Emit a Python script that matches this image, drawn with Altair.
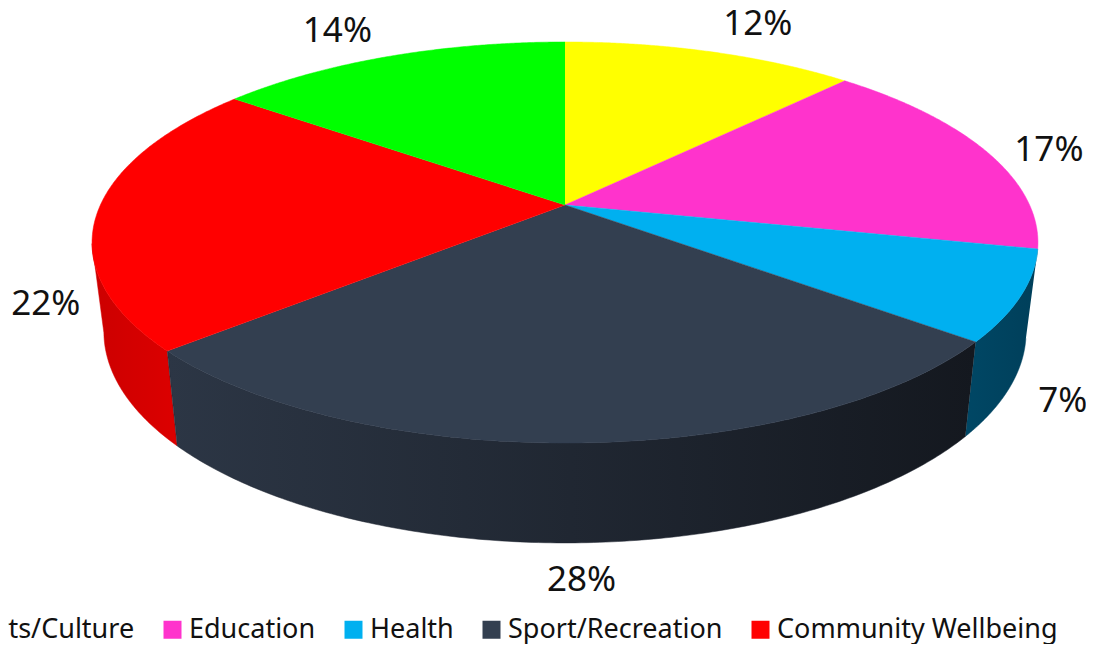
import numpy as np
import pandas as pd
import altair as alt

categories = ["Arts/Culture", "Education", "Health", "Sport/Recreation", "Community Wellbeing", "Other"]
shares = [12.0, 16.5, 7.25, 27.75, 21.95, 14.55]
labels = ["12%", "17%", "7%", "28%", "22%", "14%"]
colors = ["#FFFF00", "#FF33CC", "#00B0F0", "#333F50", "#FF0000", "#00FF00"]

# Projection of the pie disc (perspective view)
CX, CY, A, B, K = 565.0, 205.0, 464.6, 193.5, 0.187
label_offsets = [(47, -28), (63, -1), (42, 105), (3, 137), (-52, 93), (-52, -25)]


def disc(theta):
    u, v = np.sin(theta), np.cos(theta)
    d = 1 + K * v
    return CX + A * u / d, CY - B * v / d


def lower(x, y):
    return CX + 0.975 * (x - CX), 1.054 * y + 76


edges = np.cumsum([0] + shares) / 100 * 2 * np.pi
face_rows, wall_rows, label_rows = [], {}, []
for i, cat in enumerate(categories):
    t0, t1 = edges[i], edges[i + 1]
    ts = np.linspace(t0, t1, 160)
    xs, ys = disc(ts)
    face_rows.append({"cat": cat, "x": CX, "y": CY, "o": 0})
    for j, (x, y) in enumerate(zip(xs, ys)):
        face_rows.append({"cat": cat, "x": float(x), "y": float(y), "o": j + 1})
    keep = ys >= 242
    if keep.any():
        tx, ty = xs[keep], ys[keep]
        bx, by = lower(tx, ty)
        px = np.concatenate([tx, bx[::-1]])
        py = np.concatenate([ty, by[::-1]])
        wall_rows[cat] = pd.DataFrame({"x": px, "y": py, "o": np.arange(len(px))})
    mx, my = disc((t0 + t1) / 2)
    dx, dy = label_offsets[i]
    label_rows.append({"t": labels[i], "x": float(mx + dx), "y": float(my + dy)})

faces = pd.DataFrame(face_rows)
lab = pd.DataFrame(label_rows)

xs_ = alt.Scale(domain=[8, 1086], range=[0, 1078], nice=False, zero=False)
ys_ = alt.Scale(domain=[8, 644], range=[0, 636], nice=False, zero=False)
X = alt.X("x:Q", scale=xs_, axis=None)
Y = alt.Y("y:Q", scale=ys_, axis=None)
O = alt.Order("o:Q")


def grad(c0, c1):
    return alt.LinearGradient(gradient="linear", x1=0, y1=0, x2=1, y2=0,
                              stops=[alt.GradientStop(offset=0, color=c0),
                                     alt.GradientStop(offset=1, color=c1)])


wall_style = {
    "Health": (grad("#004765", "#003F5A"), "#004360"),
    "Sport/Recreation": (grad("#2C3645", "#14181F"), "#1F2530"),
    "Community Wellbeing": (grad("#CC0000", "#DC0000"), "#D60000"),
}
walls = [
    alt.Chart(wall_rows[c]).mark_line(fill=wall_style[c][0], stroke=wall_style[c][1], strokeWidth=0.5)
    .encode(x=X, y=Y, order=O)
    for c in ["Health", "Community Wellbeing", "Sport/Recreation"]
]

color_scale = alt.Scale(domain=categories, range=colors)
legend = alt.Legend(
    title=None, orient="none", legendX=-58, legendY=608, direction="horizontal", columns=6,
    symbolType="square", symbolSize=324, symbolStrokeWidth=0, labelFont="Noto Sans", labelFontSize=27,
    labelColor="#111111", labelOffset=3, columnPadding=24, padding=0, labelLimit=400, symbolOpacity=1,
)
face_chart = alt.Chart(faces).mark_line(strokeWidth=0.5).encode(
    x=X, y=Y, order=O,
    fill=alt.Fill("cat:N", scale=color_scale, sort=categories, legend=legend),
    stroke=alt.Stroke("cat:N", scale=color_scale, sort=categories, legend=None),
    detail="cat:N",
)
text_chart = alt.Chart(lab).mark_text(font="Noto Sans", fontSize=35, color="#111111").encode(
    x=X, y=Y, text="t:N"
)

chart = alt.layer(*walls, face_chart, text_chart).properties(
    width=1078, height=636, padding=0, autosize=alt.AutoSizeParams(type="none")
).configure_view(stroke=None).resolve_scale(x="shared", y="shared")

chart.save("out.html", embed_options={"renderer": "svg", "actions": False})
